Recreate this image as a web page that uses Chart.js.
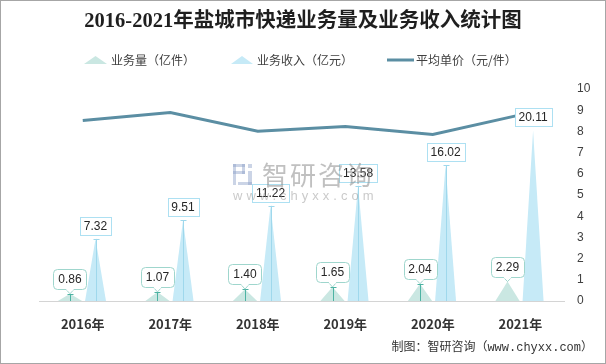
<!DOCTYPE html>
<html>
<head>
<meta charset="utf-8">
<script src="https://cdn.jsdelivr.net/npm/chart.js@4.4.1/dist/chart.umd.min.js"></script>
<style>
  html, body { margin: 0; padding: 0; background: #fff; }
  #wrap { width: 606px; height: 364px; }
</style>
</head>
<body>
<div id="wrap"><canvas id="c" width="606" height="364"></canvas></div>
<script>
// data
var years = ['2016年', '2017年', '2018年', '2019年', '2020年', '2021年'];
var volume = [0.86, 1.07, 1.40, 1.65, 2.04, 2.29];        // 业务量（亿件）
var revenue = [7.32, 9.51, 11.22, 13.58, 16.02, 20.11];   // 业务收入（亿元）
var unitPrice = [8.51, 8.89, 8.01, 8.23, 7.85, 8.78];     // 平均单价（元/件）
var seriesNames = ['业务量（亿件）', '业务收入（亿元）', '平均单价（元/件）'];
var priceTicks = [0, 1, 2, 3, 4, 5, 6, 7, 8, 9, 10];

var titleText = '2016-2021年盐城市快递业务量及业务收入统计图';
var sourceText = '制图：智研咨询（www.chyxx.com）';

var volColor = '#cae7e2', volLine = '#4db3a3', volBorder = '#9fd6cd';
var revColor = '#c6eaf7', revLine = '#9fd8ec', revBorder = '#ade0f2';
var priceColor = '#5b8ea3';

function tri(ctx, x0, x1, yBase, yTop, color) {
  ctx.beginPath();
  ctx.moveTo(x0, yBase);
  ctx.lineTo((x0 + x1) / 2, yTop);
  ctx.lineTo(x1, yBase);
  ctx.closePath();
  ctx.fillStyle = color;
  ctx.fill();
}

// draws bars as spikes, plus the leader lines, labels and the page decorations
var spikePlugin = {
  id: 'spikes',
  beforeDatasetsDraw: function (chart) {
    var ctx = chart.ctx;
    ctx.save();
    [0, 1].forEach(function (di) {
      var ds = chart.data.datasets[di];
      chart.getDatasetMeta(di).data.forEach(function (bar, i) {
        var half = bar.width / 2;
        tri(ctx, bar.x - half, bar.x + half, bar.base, bar.y, ds.spikeColor);
        // last year has no leader line in the original
        if (i === chart.data.labels.length - 1) return;
        ctx.strokeStyle = ds.leaderColor;
        ctx.lineWidth = 1;
        var x = Math.round(bar.x) + 0.5;
        ctx.beginPath();
        ctx.moveTo(x, bar.base);
        ctx.lineTo(x, bar.y);
        ctx.moveTo(x - 3, Math.round(bar.y) + 0.5);
        ctx.lineTo(x + 3, Math.round(bar.y) + 0.5);
        ctx.stroke();
      });
    });
    ctx.restore();
  },
  afterDatasetsDraw: function (chart) {
    var ctx = chart.ctx;
    ctx.save();
    ctx.font = '12px "Liberation Sans", Arial, sans-serif';
    ctx.textAlign = 'center';
    ctx.textBaseline = 'middle';
    ctx.lineWidth = 1;

    // revenue labels: plain boxes above the spike
    chart.getDatasetMeta(1).data.forEach(function (bar, i) {
      var t = revenue[i].toFixed(2);
      var w = Math.round(ctx.measureText(t).width) + 8, h = 18;
      var bx = Math.round(bar.x - w / 2) + 0.5, by = Math.round(bar.y - 4 - h) + 0.5;
      ctx.fillStyle = '#fff';
      ctx.fillRect(bx, by, w, h);
      ctx.strokeStyle = revBorder;
      ctx.strokeRect(bx, by, w, h);
      ctx.fillStyle = '#262626';
      ctx.fillText(t, bar.x, by + h / 2 + 0.5);
    });

    // volume labels: rounded callouts
    chart.getDatasetMeta(0).data.forEach(function (bar, i) {
      var t = volume[i].toFixed(2);
      var w = Math.round(ctx.measureText(t).width) + 10, h = 20;
      var bx = Math.round(bar.x - w / 2) + 0.5, by = Math.round(bar.y - 5 - h) + 0.5;
      ctx.fillStyle = '#fff';
      ctx.strokeStyle = volBorder;
      ctx.beginPath();
      ctx.roundRect(bx, by, w, h, 4);
      ctx.fill();
      ctx.stroke();
      ctx.beginPath();
      ctx.moveTo(bar.x - 4, by + h);
      ctx.lineTo(bar.x, bar.y);
      ctx.lineTo(bar.x + 4, by + h);
      ctx.fill();
      ctx.stroke();
      ctx.fillRect(bar.x - 3.5, by + h - 1.5, 7, 2.5);
      ctx.fillStyle = '#262626';
      ctx.fillText(t, bar.x, by + h / 2 + 0.5);
    });
    ctx.restore();
  },
  afterDraw: function (chart) {
    var ctx = chart.ctx;
    ctx.save();

    // title
    ctx.fillStyle = '#1f1f1f';
    ctx.font = 'bold 20.5px "Liberation Serif", "Noto Sans CJK SC", serif';
    ctx.textAlign = 'center';
    ctx.textBaseline = 'middle';
    ctx.fillText(titleText, 303, 22);

    // legend
    var ds = chart.data.datasets;
    ctx.font = '12px "Noto Sans CJK SC", sans-serif';
    ctx.textAlign = 'left';
    tri(ctx, 84, 107, 64, 56, volColor);
    tri(ctx, 231, 253, 64, 56, revColor);
    ctx.strokeStyle = priceColor;
    ctx.lineWidth = 3;
    ctx.beginPath();
    ctx.moveTo(387, 60);
    ctx.lineTo(414, 60);
    ctx.stroke();
    ctx.fillStyle = '#404040';
    ctx.fillText(ds[0].label, 111, 60);
    ctx.fillText(ds[1].label, 257, 60);
    ctx.fillText(ds[2].label, 416, 60);

    // watermark
    ctx.fillStyle = 'rgba(140,160,200,0.45)';
    ctx.fillRect(233, 164, 12, 3);
    ctx.fillRect(233, 164, 3, 21);
    ctx.fillRect(242, 164, 3, 10);
    ctx.fillRect(233, 171, 12, 3);
    ctx.fillRect(248, 164, 4, 4);
    ctx.fillRect(248, 171, 4, 14);
    ctx.fillRect(238, 182, 14, 3);
    ctx.fillStyle = 'rgba(140,140,140,0.55)';
    ctx.font = '26px "Noto Sans CJK SC", sans-serif';
    ctx.letterSpacing = '2px';
    ctx.fillText('智研咨询', 262, 175);
    ctx.font = '13px "Liberation Sans", sans-serif';
    ctx.letterSpacing = '4px';
    ctx.fillStyle = 'rgba(150,150,150,0.5)';
    ctx.fillText('www.chyxx.com', 233, 196);
    ctx.letterSpacing = '0px';

    // source
    ctx.fillStyle = '#333';
    ctx.font = '12px "Liberation Mono", "Noto Sans CJK SC", monospace';
    ctx.textAlign = 'right';
    ctx.fillText(sourceText, 593, 348);

    // frame
    ctx.strokeStyle = '#a6a6a6';
    ctx.lineWidth = 1;
    ctx.strokeRect(0.5, 0.5, 605, 363);
    ctx.restore();
  }
};

var ctx = document.getElementById('c').getContext('2d');
var chart = new Chart(ctx, {
  type: 'bar',
  data: {
    labels: years,
    datasets: [
      {
        label: seriesNames[0],
        data: volume,
        yAxisID: 'y',
        backgroundColor: 'rgba(0,0,0,0)',
        categoryPercentage: 0.584,
        barPercentage: 0.95,
        spikeColor: volColor,
        leaderColor: volLine,
        order: 2
      },
      {
        label: seriesNames[1],
        data: revenue,
        yAxisID: 'y',
        backgroundColor: 'rgba(0,0,0,0)',
        categoryPercentage: 0.584,
        barPercentage: 0.82,
        spikeColor: revColor,
        leaderColor: revLine,
        order: 2
      },
      {
        type: 'line',
        label: seriesNames[2],
        data: unitPrice,
        yAxisID: 'y1',
        borderColor: priceColor,
        borderWidth: 3,
        pointRadius: 0,
        fill: false,
        tension: 0,
        order: 1
      }
    ]
  },
  options: {
    responsive: false,
    animation: false,
    devicePixelRatio: 1,
    layout: { padding: { left: 39, right: 2.6, top: 89, bottom: 17.4 } },
    plugins: {
      legend: { display: false },
      title: { display: false },
      tooltip: { enabled: false }
    },
    scales: {
      x: {
        grid: { display: false, drawTicks: false },
        border: { color: '#d4d4d4', width: 1 },
        ticks: {
          padding: 15,
          color: '#333',
          font: { family: '"Noto Sans CJK SC", sans-serif', size: 13, weight: 'bold' }
        }
      },
      y: {
        display: false,
        min: 0,
        max: 25
      },
      y1: {
        position: 'right',
        min: priceTicks[0],
        max: priceTicks[priceTicks.length - 1],
        grid: { display: false, drawTicks: false },
        border: { display: false },
        afterBuildTicks: function (axis) {
          axis.ticks = priceTicks.map(function (v) { return { value: v }; });
        },
        ticks: {
          padding: 13,
          color: '#404040',
          font: { family: '"Liberation Sans", Arial, sans-serif', size: 12 }
        }
      }
    }
  },
  plugins: [spikePlugin]
});
</script>
</body>
</html>
